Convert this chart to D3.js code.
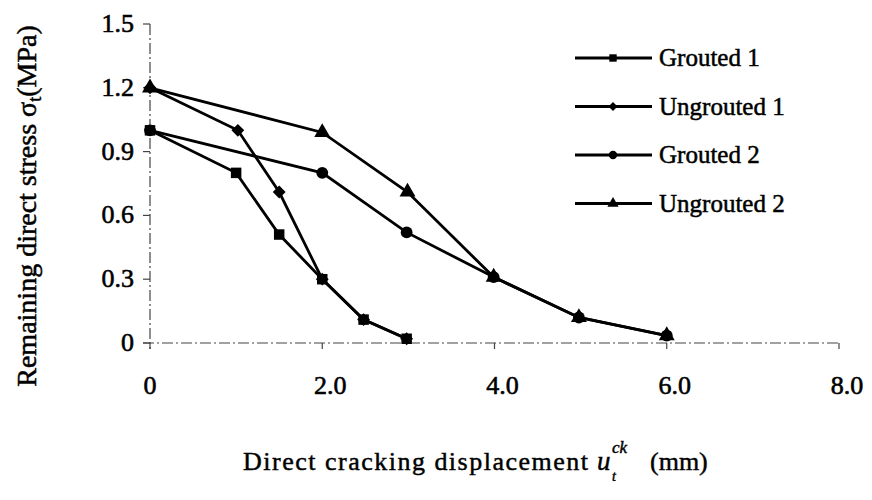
<!DOCTYPE html>
<html>
<head>
<meta charset="utf-8">
<script src="https://cdn.jsdelivr.net/npm/d3@7"></script>
<style>
  body { margin: 0; background: #fff; }
  svg { display: block; font-family: "Liberation Serif", "DejaVu Serif", serif; }
</style>
</head>
<body>
<div id="chart"></div>
<script>
// data
const seriesNames = ["Grouted 1", "Ungrouted 1", "Grouted 2", "Ungrouted 2"];
const seriesShapes = ["square", "diamond", "circle", "triangle"];
const grouted1X = [0, 1.0, 1.5, 2.0, 2.48, 2.98];
const grouted1Y = [1.0, 0.8, 0.51, 0.3, 0.11, 0.02];
const ungrouted1X = [0, 1.02, 1.5, 2.0, 2.48, 2.98];
const ungrouted1Y = [1.2, 1.0, 0.71, 0.3, 0.11, 0.02];
const grouted2X = [0, 2.0, 2.98, 3.99, 4.98, 6.0];
const grouted2Y = [1.0, 0.8, 0.52, 0.31, 0.12, 0.035];
const ungrouted2X = [0, 2.0, 2.99, 3.99, 4.98, 6.0];
const ungrouted2Y = [1.2, 0.99, 0.71, 0.31, 0.12, 0.035];
const xTicks = [0, 2, 4, 6, 8];
const xTickLabels = ["0", "2.0", "4.0", "6.0", "8.0"];
const yTicks = [0, 0.3, 0.6, 0.9, 1.2, 1.5];
const yTickLabels = ["0", "0.3", "0.6", "0.9", "1.2", "1.5"];

const width = 872, height = 500;
const svg = d3.select("#chart").append("svg")
  .attr("width", width)
  .attr("height", height);

const x = d3.scaleLinear().domain([0, 8]).range([150, 839]);
const y = d3.scaleLinear().domain([0, 1.5]).range([343, 24]);

const series = [
  [grouted1X, grouted1Y],
  [ungrouted1X, ungrouted1Y],
  [grouted2X, grouted2Y],
  [ungrouted2X, ungrouted2Y]
].map((s, i) => ({
  name: seriesNames[i],
  shape: seriesShapes[i],
  points: s[0].map((v, j) => ({ x: v, y: s[1][j] }))
}));

const dashAxis = "11,3,2,3";

// y axis (dash-dot)
svg.append("line")
  .attr("x1", x(0)).attr("x2", x(0))
  .attr("y1", y(1.5)).attr("y2", y(0) + 6)
  .attr("stroke", "#444").attr("stroke-width", 1.2)
  .attr("stroke-dasharray", dashAxis);
// x axis
svg.append("line")
  .attr("x1", x(0) - 7).attr("x2", x(8))
  .attr("y1", y(0)).attr("y2", y(0))
  .attr("stroke", "#444").attr("stroke-width", 1.2)
  .attr("stroke-dasharray", dashAxis);

// y ticks + labels
svg.selectAll(".ytick").data(yTicks).enter().append("line")
  .attr("x1", x(0) - 7).attr("x2", x(0))
  .attr("y1", d => y(d)).attr("y2", d => y(d))
  .attr("stroke", "#444").attr("stroke-width", 1.2);
svg.selectAll(".ylab").data(yTicks).enter().append("text")
  .attr("x", 134)
  .attr("y", d => y(d) + 8)
  .attr("text-anchor", "end")
  .attr("font-size", 26)
  .attr("stroke", "#000").attr("stroke-width", 0.6)
  .text((d, i) => yTickLabels[i]);

// x ticks + labels
svg.selectAll(".xtick").data(xTicks).enter().append("line")
  .attr("x1", d => x(d)).attr("x2", d => x(d))
  .attr("y1", y(0)).attr("y2", y(0) + 6)
  .attr("stroke", "#444").attr("stroke-width", 1.2);
svg.selectAll(".xlab").data(xTicks).enter().append("text")
  .attr("x", d => x(d) + (d === 0 ? 0 : 8))
  .attr("y", 394)
  .attr("text-anchor", "middle")
  .attr("font-size", 26)
  .attr("stroke", "#000").attr("stroke-width", 0.6)
  .text((d, i) => xTickLabels[i]);

// marker symbols
function symbolFor(shape, size) {
  const t = { square: d3.symbolSquare, diamond: d3.symbolSquare, circle: d3.symbolCircle, triangle: d3.symbolTriangle }[shape];
  return d3.symbol().type(t).size(shape === "diamond" ? size * 0.75 : size)();
}
const rot = shape => shape === "diamond" ? " rotate(45)" : "";

const line = d3.line().x(d => x(d.x)).y(d => y(d.y));

series.forEach(s => {
  svg.append("path")
    .attr("d", line(s.points))
    .attr("fill", "none")
    .attr("stroke", "#000")
    .attr("stroke-width", 2.8);
  svg.selectAll(null).data(s.points).enter().append("path")
    .attr("d", symbolFor(s.shape, 110))
    .attr("transform", d => "translate(" + x(d.x) + "," + y(d.y) + ")" + rot(s.shape))
    .attr("fill", "#000");
});

// legend
const legend = svg.append("g");
series.forEach((s, i) => {
  const ly = 58 + i * 48.5;
  legend.append("line")
    .attr("x1", 575).attr("x2", 652)
    .attr("y1", ly).attr("y2", ly)
    .attr("stroke", "#000").attr("stroke-width", 2.8);
  legend.append("path")
    .attr("d", symbolFor(s.shape, 55))
    .attr("transform", "translate(" + 613 + "," + ly + ")" + rot(s.shape))
    .attr("fill", "#000");
  legend.append("text")
    .attr("x", 659).attr("y", ly + 8)
    .attr("font-size", 25)
    .attr("stroke", "#000").attr("stroke-width", 0.5)
    .text(s.name);
});

// y axis title
const yt = svg.append("text")
  .attr("transform", "translate(36,206) rotate(-90)")
  .attr("text-anchor", "middle")
  .attr("font-size", 28)
  .attr("stroke", "#000").attr("stroke-width", 0.5);
yt.append("tspan").text("Remaining direct stress σ");
yt.append("tspan").attr("font-size", 18).attr("dy", 5).text("t");
yt.append("tspan").attr("dy", -5).text("(MPa)");

// x axis title
const xStyle = sel => sel.attr("stroke", "#000").attr("stroke-width", 0.45);
svg.append("text")
  .attr("x", 243).attr("y", 470)
  .attr("font-size", 26)
  .attr("textLength", 345).attr("lengthAdjust", "spacing")
  .call(xStyle)
  .text("Direct cracking displacement");
svg.append("text")
  .attr("x", 597).attr("y", 470)
  .attr("font-size", 27).attr("font-style", "italic")
  .call(xStyle)
  .text("u");
svg.append("text")
  .attr("x", 612).attr("y", 453)
  .attr("font-size", 17).attr("font-style", "italic")
  .call(xStyle)
  .text("ck");
svg.append("text")
  .attr("x", 612).attr("y", 481)
  .attr("font-size", 14).attr("font-style", "italic")
  .call(xStyle)
  .text("t");
svg.append("text")
  .attr("x", 650).attr("y", 470)
  .attr("font-size", 26)
  .call(xStyle)
  .text("(mm)");
</script>
</body>
</html>
